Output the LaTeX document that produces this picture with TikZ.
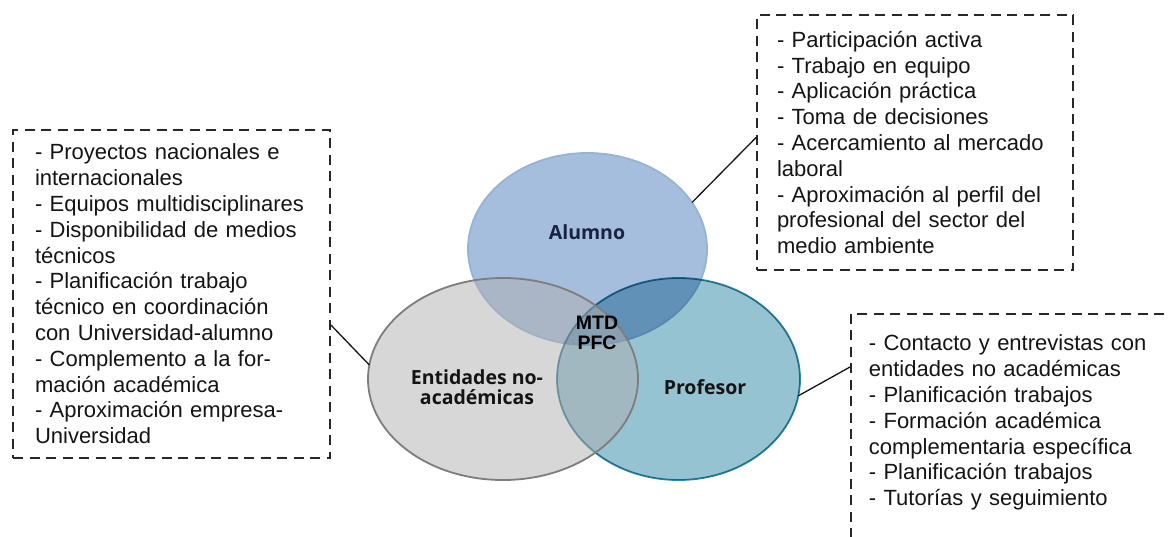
\documentclass[tikz,border=0pt]{standalone}
\usepackage{fontspec}
\setmainfont{Liberation Sans}
\newfontfamily\vennfont{Open Sans}
\usetikzlibrary{shapes.geometric}
\definecolor{alumnofill}{RGB}{165,190,222}
\definecolor{alumnoline}{RGB}{150,178,212}
\definecolor{alumnotext}{RGB}{25,35,65}
\definecolor{profefill}{RGB}{150,195,210}
\definecolor{profeline}{RGB}{45,135,160}
\definecolor{entfill}{RGB}{175,175,175}
\definecolor{entline}{RGB}{125,125,125}
\definecolor{boxgray}{RGB}{40,40,40}
\definecolor{listblack}{RGB}{20,20,20}
\tikzset{
  venn/.style={
    ellipse,
    inner sep=0pt,
    outer sep=0pt,
    line width=1.8pt
  },
  vennlabel/.style={
    align=center,
    text=listblack,
    font=\vennfont\bfseries\fontsize{19.5}{20.5}\selectfont
  },
  centerlabel/.style={
    align=center,
    text=black,
    font=\bfseries\fontsize{19.5}{20}\selectfont
  },
  listbox/.style={
    draw=boxgray,
    dash pattern=on 10pt off 6.5pt,
    line width=1.8pt,
    align=left,
    text=listblack,
    font=\fontsize{22}{25.8}\selectfont
  },
  every edge/.style={
    draw=listblack,
    line width=1.3pt
  }
}
\begin{document}
\begin{tikzpicture}[x=1pt, y=-1pt]
  \useasboundingbox (0,0) rectangle (1170,536);
  \clip (0,0) rectangle (1170,536);

  \node[venn, fill=alumnofill, draw=alumnoline, minimum width=239pt, minimum height=192pt] (alumno) at (587.5,249) {};
  \begin{scope}[blend mode=multiply]
    \node[venn, fill=profefill, draw=profeline, minimum width=243pt, minimum height=202pt] (profesor) at (678.5,379) {};
  \end{scope}
  \node[venn, fill=entfill, fill opacity=0.5, draw=entline, minimum width=270pt, minimum height=202pt] (entidades) at (503,379) {};

  \node[vennlabel, text=alumnotext] (alumnotxt) at (587,232) {Alumno};
  \node[vennlabel] (entidadestxt) at (477,387) {Entidades no-\\académicas};
  \node[vennlabel] (profesortxt) at (705,387) {Profesor};
  \node[centerlabel] (mtd) at (597,333) {MTD\\PFC};

  \node[listbox, text width=273pt, inner xsep=22pt, minimum height=328pt] (entlist) at (171.5,294) {%
    - Proyectos nacionales e\\
    internacionales\\
    - Equipos multidisciplinares\\
    - Disponibilidad de medios\\
    técnicos\\
    - Planificación trabajo\\
    técnico en coordinación\\
    con Universidad-alumno\\
    - Complemento a la for-\\
    mación académica\\
    - Aproximación empresa-\\
    Universidad};
  \node[listbox, text width=276pt, inner xsep=20pt, minimum height=255pt] (alulist) at (915,142.5) {%
    - Participación activa\\
    - Trabajo en equipo\\
    - Aplicación práctica\\
    - Toma de decisiones\\
    - Acercamiento al mercado\\
    laboral\\
    - Aproximación al perfil del\\
    profesional del sector del\\
    medio ambiente};
  \node[listbox, text width=300pt, inner xsep=18pt, inner ysep=21pt, text depth=260pt, anchor=north west] (prolist) at (850,313) {%
    - Contacto y entrevistas con\\
    entidades no académicas\\
    - Planificación trabajos\\
    - Formación académica\\
    complementaria específica\\
    - Planificación trabajos\\
    - Tutorías y seguimiento};

  \path ([yshift=-31pt]entlist.east) edge (entidades.174)
        ([yshift=5pt]alulist.west) edge (alumno.24)
        ([yshift=-54pt]prolist.north west) edge (profesor.-8);
\end{tikzpicture}
\end{document}
